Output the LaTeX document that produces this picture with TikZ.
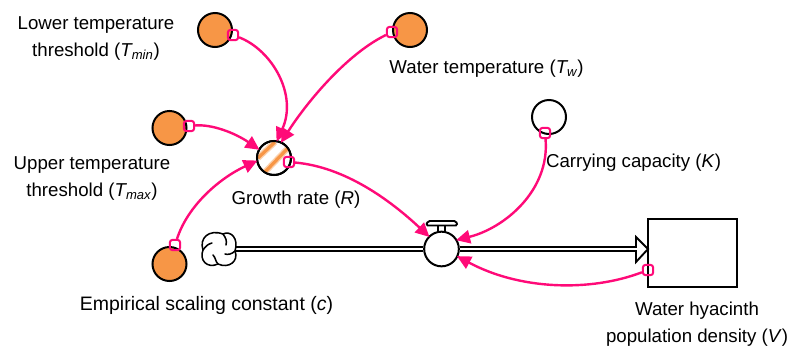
\documentclass[tikz,border=0pt]{standalone}
\usepackage{fontspec}
\setmainfont{Liberation Sans}
\usetikzlibrary{arrows.meta}
\definecolor{pk}{HTML}{FF0A78}
\definecolor{og}{HTML}{F79646}
\tikzset{
 x=.75pt,y=-.75pt,
 aux/.style={circle,draw=black,line width=1.5pt,minimum size=25.5pt,inner sep=0pt,fill=og},
 const/.style={aux,fill=white},
 handle/.style={draw=pk,line width=1.5pt,rounded corners=1.8pt,minimum size=7.6pt,inner sep=0pt,fill=none},
 link/.style={draw=pk,line width=1.8pt,-{Triangle[length=10.5pt,width=10pt]},shorten >=-1pt},
 lbl/.style={font=\fontsize{14}{20.25}\selectfont,align=center,inner sep=0pt,text=black},
 pipe/.style={draw=black,line width=1.1pt,double=white,double distance=1.6pt},
 black line/.style={draw=black,line width=1.4pt}
}
\begin{document}
\begin{tikzpicture}
\useasboundingbox (0,0) rectangle (789,347);
% flows
\coordinate (headtip) at (648,249);
\coordinate (headbase) at (637,249);
\node[inner sep=0pt,minimum size=24pt] (cloud) at (219,249) {};
\node[const,minimum size=26pt] (valve) at (441.5,249) {};
\node[draw=black,line width=1.5pt,fill=white,minimum width=66.5pt,minimum height=51pt,inner sep=0pt] (stock) at (692.5,253) {};
\draw[pipe] (cloud.east) -- (valve.west);
\draw[pipe] (valve.east) -- (headbase);
\draw[black line,fill=white,line join=miter] (636,237) -- (headtip) -- (636,262) -- cycle;
\fill[white] (634,247.6) rectangle (638.5,250.4);
\draw[black line] (valve.north) ++(-3.2,0) -- ++(0,-6) (valve.north) ++(3.2,0) -- ++(0,-6);
\draw[black line,fill=white,rounded corners=1.2pt] (426,225.5) -- (428,221) -- (456,221) -- (457.5,225.5) -- cycle;
% cloud
\begin{scope}[shift={(cloud.center)},black line,line width=1.15pt,line cap=round]
\draw[fill=white] (4,-15) .. controls (12,-19) and (20,-10) .. (16,2)
 .. controls (20,12) and (10,20) .. (-1,15)
 .. controls (-12,20) and (-20,11) .. (-16,1)
 .. controls (-20,-11) and (-10,-20) .. cycle;
\draw (4,-15) .. controls (7,-11) and (8,-8) .. (7,-4);
\draw (16,2) .. controls (13,5) and (9,6) .. (6,5);
\draw (-1,15) .. controls (-4,12) and (-3,9) .. (-6,6);
\draw (-16,1) .. controls (-13,-3) and (-11,-5) .. (-7,-6);
\end{scope}
\node[aux] (tmin) at (215,30) {};
\node[aux] (tw) at (410,30) {};
\node[aux] (tmax) at (169.5,128) {};
\node[aux] (c) at (169.5,264) {};
\node[const] (k) at (549,117) {};
\node[const] (r) at (274,158) {};
\begin{scope}
\clip (r) circle (16.5);
\draw[og!45,line width=4.5pt] (258,158) -- (275,142) (264,173) -- (289,147);
\draw[og,line width=2.4pt] (258,158) -- (275,142) (264,173) -- (289,147);
\end{scope}
\draw[black,line width=1.5pt] (r) circle (17);
% handles
\node[handle] (h1) at (233,35) {};
\node[handle] (h2) at (392,32) {};
\node[handle] (h3) at (189,126) {};
\node[handle] (h4) at (175,245) {};
\node[handle] (h5) at (289,162) {};
\node[handle] (h6) at (545,133) {};
\node[handle] (h7) at (648,270) {};
% links
\draw[link] (h1) .. controls (272,50) and (298,95) .. (r.80);
\draw[link] (h2) .. controls (345,55) and (305,105) .. (r.65);
\draw[link] (h3) .. controls (212,124) and (235,133) .. (r.150);
\draw[link] (h4) .. controls (188,205) and (220,178) .. (r.190);
\draw[link] (h5) .. controls (345,167) and (390,200) .. (valve.135);
\draw[link] (h6) .. controls (550,190) and (505,228) .. (valve.30);
\draw[link] (h7) .. controls (590,292) and (520,290) .. (valve.-25);
% labels
\node[lbl] (t1) at (96,39) {Lower temperature\\threshold (\textit{T\textsubscript{min}})};
\node[lbl] (t2) at (92,178.5) {Upper temperature\\threshold (\textit{T\textsubscript{max}})};
\node[lbl] (t3) at (296,199.5) {Growth rate (\textit{R})};
\node[lbl] (t4) at (486.5,69) {Water temperature (\textit{T\textsubscript{w}})};
\node[lbl] (t5) at (633.5,162.5) {Carrying capacity (\textit{K})};
\node[lbl,font=\fontsize{14.6}{20.25}\selectfont] (t6) at (206.5,305) {Empirical scaling constant (\textit{c})};
\node[lbl] (t7) at (697,324) {Water hyacinth\\population density (\textit{V})};
\end{tikzpicture}
\end{document}
